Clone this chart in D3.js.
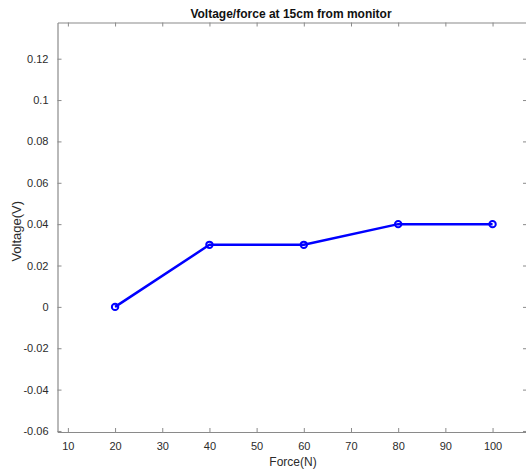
<!DOCTYPE html>
<html>
<head>
<meta charset="utf-8">
<script src="https://cdn.jsdelivr.net/npm/d3@7"></script>
<style>
  html, body { margin: 0; padding: 0; background: #fff; }
  svg { display: block; font-family: "Liberation Sans", Arial, Helvetica, sans-serif; }
</style>
</head>
<body>
<svg id="chart" width="526" height="472"></svg>
<script>
// Measured output voltage for each applied force, sensor 15 cm from the monitor
const forces = [20, 40, 60, 80, 100];
const voltages = [0, 0.03, 0.03, 0.04, 0.04];
const xTicks = [10, 20, 30, 40, 50, 60, 70, 80, 90, 100];
const yTicks = [-0.06, -0.04, -0.02, 0, 0.02, 0.04, 0.06, 0.08, 0.1, 0.12];
const xDomain = [7.8, 107.3];
const yDomain = [-0.0605, 0.1375];

(function () {
  const svg = d3.select("#chart");
  const plot = { left: 57.5, right: 527, top: 22.5, bottom: 432 };

  const x = d3.scaleLinear().domain(xDomain).range([plot.left, plot.right]);
  const y = d3.scaleLinear().domain(yDomain).range([plot.bottom, plot.top]);

  const axisColor = "#8a8a8a";
  const textColor = "#2b2b2b";
  const tickLen = 4;

  // Box axes with inward ticks on all four sides
  const axBottom = svg.append("g").attr("transform", `translate(0,${plot.bottom})`)
    .call(d3.axisBottom(x).tickValues(xTicks).tickSizeInner(-tickLen).tickSizeOuter(0).tickPadding(10).tickFormat(d3.format("d")));
  const axTop = svg.append("g").attr("transform", `translate(0,${plot.top})`)
    .call(d3.axisTop(x).tickValues(xTicks).tickSizeInner(-tickLen).tickSizeOuter(0).tickFormat(""));
  const axLeft = svg.append("g").attr("transform", `translate(${plot.left},0)`)
    .call(d3.axisLeft(y).tickValues(yTicks).tickSizeInner(-tickLen).tickSizeOuter(0).tickPadding(9).tickFormat(d => d === 0 ? "0" : String(+d.toFixed(2))));
  const axRight = svg.append("g").attr("transform", `translate(${plot.right},0)`)
    .call(d3.axisRight(y).tickValues(yTicks).tickSizeInner(-tickLen).tickSizeOuter(0).tickFormat(""));

  [axBottom, axTop, axLeft, axRight].forEach(g => {
    g.select(".domain").attr("stroke", axisColor).attr("stroke-width", 1.2);
    g.selectAll(".tick line").attr("stroke", axisColor).attr("stroke-width", 1);
    g.selectAll(".tick text").attr("fill", textColor).attr("font-size", 11)
      .attr("font-family", "'Liberation Sans', Arial, Helvetica, sans-serif");
  });

  // Title and axis labels
  svg.append("text").attr("x", 291).attr("y", 18).attr("text-anchor", "middle")
    .attr("font-size", 12).attr("font-weight", "bold").attr("fill", "#111")
    .text("Voltage/force at 15cm from monitor");
  svg.append("text").attr("x", 293).attr("y", 466).attr("text-anchor", "middle")
    .attr("font-size", 12).attr("fill", textColor).text("Force(N)");
  svg.append("text").attr("transform", `translate(21,${(plot.top + plot.bottom) / 2 + 4}) rotate(-90)`)
    .attr("text-anchor", "middle").attr("font-size", 13).attr("fill", textColor).text("Voltage(V)");

  // Data series: line with open circle markers
  const points = forces.map((f, i) => [f, voltages[i]]);
  svg.append("path").datum(points)
    .attr("fill", "none").attr("stroke", "#0000ff").attr("stroke-width", 2.5).attr("stroke-linejoin", "round")
    .attr("d", d3.line().x(d => x(d[0])).y(d => y(d[1])));
  svg.append("g").selectAll("circle").data(points).join("circle")
    .attr("cx", d => x(d[0])).attr("cy", d => y(d[1])).attr("r", 3.2)
    .attr("fill", "none").attr("stroke", "#0000ff").attr("stroke-width", 2);
})();
</script>
</body>
</html>
